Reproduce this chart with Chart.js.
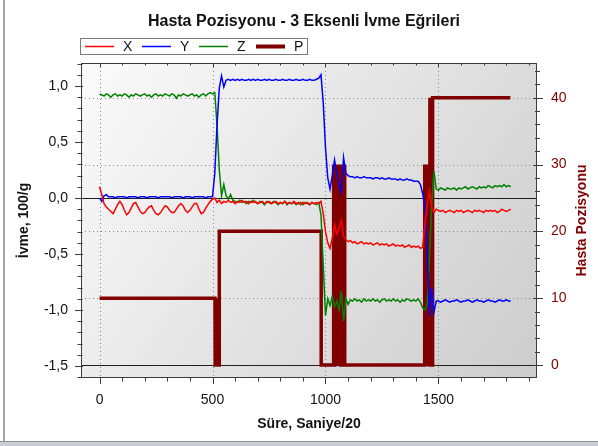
<!DOCTYPE html>
<html>
<head>
<meta charset="utf-8">
<script src="https://cdn.jsdelivr.net/npm/chart.js@4.4.0/dist/chart.umd.min.js"></script>
<style>
  html, body { margin: 0; padding: 0; background: #fff; overflow: hidden; }
  #kutu { width: 598px; height: 446px; position: relative; }
</style>
</head>
<body>
<div id="kutu"><canvas id="grafik"></canvas></div>
<script>
// Süre, Saniye/20 (ortak zaman ekseni)
var sure = [
  0, 10, 20, 30, 40, 50, 60, 70, 80, 90,
  100, 110, 120, 130, 140, 150, 160, 170, 180, 190,
  200, 210, 220, 230, 240, 250, 260, 270, 280, 290,
  300, 310, 320, 330, 340, 350, 360, 370, 380, 390,
  400, 410, 420, 430, 440, 450, 460, 470, 480, 490,
  500, 510, 520, 530, 540, 550, 560, 570, 580, 590,
  600, 610, 620, 630, 640, 650, 660, 670, 680, 690,
  700, 710, 720, 730, 740, 750, 760, 770, 780, 790,
  800, 810, 820, 830, 840, 850, 860, 870, 880, 890,
  900, 910, 920, 930, 940, 950, 960, 970, 980, 990,
  1000, 1010, 1020, 1030, 1040, 1050, 1060, 1070, 1080, 1090,
  1100, 1110, 1120, 1130, 1140, 1150, 1160, 1170, 1180, 1190,
  1200, 1210, 1220, 1230, 1240, 1250, 1260, 1270, 1280, 1290,
  1300, 1310, 1320, 1330, 1340, 1350, 1360, 1370, 1380, 1390,
  1400, 1410, 1420, 1430, 1440, 1450, 1460, 1470, 1480, 1490,
  1500, 1510, 1520, 1530, 1540, 1550, 1560, 1570, 1580, 1590,
  1600, 1610, 1620, 1630, 1640, 1650, 1660, 1670, 1680, 1690,
  1700, 1710, 1720, 1730, 1740, 1750, 1760, 1770, 1780, 1790,
  1800, 1810, 1820
];

// ivme, 100/g
var ivmeX = [
  0.10, 0.03, -0.05, -0.08, -0.10, -0.12, -0.14, -0.10, -0.06, -0.03,
  -0.06, -0.11, -0.15, -0.13, -0.09, -0.05, -0.04, -0.08, -0.12, -0.14,
  -0.13, -0.10, -0.08, -0.07, -0.11, -0.14, -0.15, -0.13, -0.10, -0.07,
  -0.08, -0.11, -0.13, -0.13, -0.10, -0.07, -0.05, -0.07, -0.11, -0.13,
  -0.11, -0.08, -0.05, -0.05, -0.10, -0.14, -0.13, -0.09, -0.06, -0.03,
  -0.01, 0.00, -0.04, -0.02, -0.05, -0.03, -0.04, -0.02, -0.04, -0.03,
  -0.05, -0.03, -0.04, -0.02, -0.04, -0.03, -0.05, -0.03, -0.04, -0.03,
  -0.05, -0.04, -0.03, -0.05, -0.04, -0.03, -0.05, -0.04, -0.03, -0.05,
  -0.04, -0.05, -0.03, -0.05, -0.04, -0.05, -0.03, -0.05, -0.04, -0.06,
  -0.04, -0.05, -0.04, -0.06, -0.04, -0.05, -0.04, -0.05, -0.03, -0.14,
  -0.30, -0.40, -0.45, -0.36, -0.24, -0.32, -0.27, -0.20, -0.34, -0.37,
  -0.39, -0.38, -0.40, -0.39, -0.41, -0.40, -0.39, -0.41, -0.40, -0.41,
  -0.40, -0.42, -0.41, -0.40, -0.42, -0.41, -0.42, -0.41, -0.43, -0.42,
  -0.41, -0.43, -0.42, -0.43, -0.42, -0.44, -0.43, -0.42, -0.44, -0.43,
  -0.44, -0.43, -0.45, -0.44, -0.23, -0.05, 0.06, -0.08, -0.13, -0.10,
  -0.11, -0.12, -0.11, -0.13, -0.12, -0.11, -0.12, -0.13, -0.11, -0.12,
  -0.11, -0.13, -0.12, -0.11, -0.12, -0.13, -0.11, -0.12, -0.11, -0.12,
  -0.13, -0.11, -0.12, -0.11, -0.12, -0.11, -0.13, -0.12, -0.10, -0.11,
  -0.12, -0.11, -0.10
];
var ivmeY = [
  0.00, -0.03, 0.02, 0.03, 0.01, 0.01, 0.01, 0.00, 0.01, 0.01,
  0.01, 0.01, 0.00, 0.01, 0.01, 0.01, 0.01, 0.00, 0.01, 0.01,
  0.01, 0.00, 0.01, 0.01, 0.01, 0.01, 0.00, 0.01, 0.01, 0.01,
  0.01, 0.01, 0.00, 0.01, 0.01, 0.01, 0.01, 0.00, 0.01, 0.01,
  0.01, 0.00, 0.01, 0.01, 0.01, 0.01, 0.01, 0.00, 0.01, 0.01,
  0.01, 0.22, 0.65, 0.98, 1.09, 0.99, 1.05, 1.06, 1.05, 1.06,
  1.05, 1.06, 1.05, 1.06, 1.05, 1.05, 1.06, 1.05, 1.06, 1.05,
  1.06, 1.05, 1.05, 1.06, 1.05, 1.06, 1.05, 1.05, 1.06, 1.05,
  1.05, 1.06, 1.05, 1.05, 1.06, 1.05, 1.05, 1.06, 1.05, 1.05,
  1.06, 1.05, 1.05, 1.06, 1.05, 1.05, 1.06, 1.07, 1.10, 0.85,
  0.45, 0.18, 0.08, 0.20, 0.34, 0.22, 0.12, 0.05, 0.36, 0.22,
  0.20, 0.19, 0.19, 0.18, 0.19, 0.18, 0.18, 0.19, 0.18, 0.18,
  0.18, 0.17, 0.18, 0.18, 0.17, 0.18, 0.17, 0.17, 0.18, 0.17,
  0.17, 0.17, 0.16, 0.17, 0.16, 0.16, 0.17, 0.16, 0.16, 0.15,
  0.15, 0.15, 0.12, 0.04, -0.08, -0.50, -1.05, -0.80, -1.02, -0.92,
  -0.92, -0.93, -0.92, -0.91, -0.92, -0.93, -0.92, -0.92, -0.91, -0.92,
  -0.93, -0.92, -0.92, -0.91, -0.92, -0.93, -0.92, -0.91, -0.92, -0.92,
  -0.93, -0.92, -0.91, -0.92, -0.92, -0.93, -0.92, -0.91, -0.92, -0.92,
  -0.91, -0.92, -0.92
];
var ivmeZ = [
  0.93, 0.92, 0.91, 0.93, 0.92, 0.90, 0.92, 0.93, 0.91, 0.92,
  0.91, 0.93, 0.92, 0.90, 0.92, 0.91, 0.93, 0.92, 0.91, 0.92,
  0.93, 0.91, 0.92, 0.90, 0.92, 0.93, 0.91, 0.92, 0.91, 0.93,
  0.92, 0.91, 0.93, 0.92, 0.89, 0.92, 0.91, 0.93, 0.92, 0.91,
  0.92, 0.93, 0.91, 0.92, 0.90, 0.92, 0.93, 0.91, 0.93, 0.94,
  0.93, 0.94, 0.65, 0.25, 0.02, 0.12, 0.02, -0.01, 0.03, -0.02,
  -0.03, -0.04, -0.02, -0.04, -0.03, -0.05, -0.03, -0.04, -0.02, -0.04,
  -0.05, -0.03, -0.04, -0.06, -0.03, -0.04, -0.05, -0.03, -0.04, -0.06,
  -0.04, -0.05, -0.03, -0.06, -0.04, -0.05, -0.04, -0.06, -0.05, -0.04,
  -0.06, -0.04, -0.05, -0.06, -0.04, -0.05, -0.06, -0.04, -0.15, -0.60,
  -1.05, -0.90, -0.96, -0.88, -0.97, -0.92, -1.00, -0.83, -1.10, -0.90,
  -0.95, -0.91, -0.92, -0.90, -0.92, -0.91, -0.93, -0.90, -0.92, -0.91,
  -0.92, -0.90, -0.92, -0.91, -0.93, -0.91, -0.90, -0.92, -0.91, -0.92,
  -0.90, -0.92, -0.91, -0.93, -0.91, -0.92, -0.90, -0.91, -0.92, -0.91,
  -0.92, -0.90, -0.93, -0.98, -1.00, -0.95, -0.55, -0.05, 0.24, 0.08,
  0.07, 0.09, 0.08, 0.07, 0.09, 0.08, 0.08, 0.09, 0.07, 0.09,
  0.08, 0.09, 0.10, 0.08, 0.09, 0.10, 0.09, 0.08, 0.10, 0.09,
  0.10, 0.09, 0.11, 0.10, 0.09, 0.11, 0.10, 0.11, 0.10, 0.12,
  0.10, 0.11, 0.10
];

// hasta pozisyonu (sag eksen), kendi zaman noktalari ile
var pozSure = [
  0, 511, 512, 514, 516, 518, 520, 522, 524, 530, 530, 981, 981,
  1034, 1036, 1038, 1040, 1042, 1044, 1046, 1048, 1050, 1052, 1054, 1056, 1058,
  1060, 1062, 1064, 1066, 1068, 1070, 1072, 1074, 1076, 1078, 1080, 1082, 1084, 1086,
  1436, 1438, 1440, 1442, 1444, 1446, 1448, 1450, 1452, 1454, 1456, 1458,
  1460, 1462, 1464, 1466, 1468, 1470, 1472, 1474, 1476,
  1818
];
var pozDeger = [
  10, 10, 0, 10, 0, 10, 0, 10, 0, 0, 20, 20, 0,
  0, 30, 0, 30, 0, 30, 0, 30, 0, 30, 0, 30, 0,
  30, 0, 30, 0, 30, 0, 30, 0, 30, 0, 30, 0, 30, 0,
  0, 30, 0, 30, 0, 30, 0, 30, 0, 30, 0, 30,
  0, 40, 0, 40, 0, 40, 0, 40, 40,
  40
];

var seriAdlari = ['X', 'Y', 'Z', 'P'];
var seriRenkleri = ['#ff0000', '#0000ff', '#008000', '#800000'];
var solTikler = [-1.5, -1.0, -0.5, 0, 0.5, 1.0];
var sagTikler = [0, 10, 20, 30, 40];
var altTikler = [0, 500, 1000, 1500];

var yazi = "'Liberation Sans', Arial, sans-serif";
var eksenRengi = '#3c3c3c';

function noktalar(xs, ys) {
    return xs.map(function (t, i) { return { x: t, y: ys[i] }; });
}

var cizim = {
    id: 'cizim',
    beforeDraw(chart) {
        const { ctx, chartArea: a } = chart;
        ctx.save();
        ctx.fillStyle = '#ffffff';
        ctx.fillRect(0, 0, chart.width, chart.height);
        // dis cerceve
        ctx.fillStyle = '#a4a4a4';
        ctx.fillRect(3, 0, 2, 442);
        ctx.fillStyle = '#c9cdd6';
        ctx.fillRect(0, 442, chart.width, 4);
        ctx.fillStyle = '#8a909c';
        ctx.fillRect(0, 441, chart.width, 1);
        // grafik alani
        const g = ctx.createLinearGradient(a.left, a.top, a.right, a.bottom);
        g.addColorStop(0, '#fbfbfb');
        g.addColorStop(1, '#cccccc');
        ctx.fillStyle = g;
        ctx.fillRect(a.left, a.top, a.width, a.height);
        ctx.restore();
    },
    beforeDatasetsDraw(chart) {
        const { ctx, chartArea: a, scales } = chart;
        ctx.save();
        ctx.strokeStyle = '#8a8a8a';
        ctx.lineWidth = 1;
        ctx.setLineDash([1, 3]);
        altTikler.forEach(function (v) {
            const px = Math.round(scales.x.getPixelForValue(v)) + 0.5;
            ctx.beginPath(); ctx.moveTo(px, a.top); ctx.lineTo(px, a.bottom); ctx.stroke();
        });
        sagTikler.forEach(function (v) {
            if (v === 0) return;
            const py = Math.round(scales.y2.getPixelForValue(v)) + 0.5;
            ctx.beginPath(); ctx.moveTo(a.left, py); ctx.lineTo(a.right, py); ctx.stroke();
        });
        ctx.setLineDash([]);
        ctx.strokeStyle = '#202020';
        var py0 = Math.round(scales.y.getPixelForValue(0)) + 0.5;
        ctx.beginPath(); ctx.moveTo(a.left, py0); ctx.lineTo(a.right, py0); ctx.stroke();
        var pyP = Math.round(scales.y2.getPixelForValue(0)) + 0.5;
        ctx.beginPath(); ctx.moveTo(a.left, pyP); ctx.lineTo(a.right, pyP); ctx.stroke();
        ctx.restore();
    },
    afterDatasetsDraw(chart) {
        const { ctx, chartArea: a, scales } = chart;
        ctx.save();
        ctx.strokeStyle = eksenRengi;
        ctx.lineWidth = 1;
        // cerceve
        ctx.strokeRect(a.left + 0.5, a.top + 0.5, a.width - 1, a.height - 1);
        ctx.beginPath();
        // alt eksen tikleri (100'de bir)
        for (var k = 0; k <= 19; k++) {
            var px = Math.round(scales.x.getPixelForValue(k * 100)) + 0.5;
            var buyuk = k % 5 === 0;
            ctx.moveTo(px, a.bottom); ctx.lineTo(px, a.bottom + (buyuk ? 6 : 3.5));
            ctx.moveTo(px, a.top); ctx.lineTo(px, a.top + (buyuk ? 4 : 2.5));
        }
        // sol eksen tikleri (0,1'de bir)
        for (var j = -16; j <= 12; j++) {
            var py = Math.round(scales.y.getPixelForValue(j / 10)) + 0.5;
            var b2 = j % 5 === 0;
            ctx.moveTo(a.left - (b2 ? 6 : 3.5), py); ctx.lineTo(a.left + (b2 ? 2 : 1.5), py);
        }
        // sag eksen tikleri (2'de bir)
        for (var m = 0; m <= 44; m += 2) {
            var py2 = Math.round(scales.y2.getPixelForValue(m)) + 0.5;
            var b3 = m % 10 === 0;
            ctx.moveTo(a.right - (b3 ? 4 : 2), py2); ctx.lineTo(a.right + (b3 ? 6 : 3), py2);
        }
        ctx.stroke();
        ctx.restore();
    },
    afterDraw(chart) {
        const { ctx, chartArea: a } = chart;
        ctx.save();
        // baslik
        ctx.fillStyle = '#111111';
        ctx.font = 'bold 16px ' + yazi;
        ctx.textAlign = 'center';
        ctx.textBaseline = 'alphabetic';
        ctx.fillText('Hasta Pozisyonu - 3 Eksenli İvme Eğrileri', 304, 26);

        // lejant
        ctx.fillStyle = '#ffffff';
        ctx.fillRect(80.5, 38.5, 227, 16);
        ctx.strokeStyle = '#7a7a7a';
        ctx.lineWidth = 1;
        ctx.strokeRect(80.5, 38.5, 227, 16);
        ctx.font = '14px ' + yazi;
        ctx.textAlign = 'left';
        ctx.textBaseline = 'middle';
        for (var i = 0; i < seriAdlari.length; i++) {
            var x0 = 85 + i * 57;
            ctx.strokeStyle = seriRenkleri[i];
            ctx.lineWidth = i === 3 ? 4 : 1.5;
            ctx.beginPath(); ctx.moveTo(x0, 46.5); ctx.lineTo(x0 + 29, 46.5); ctx.stroke();
            ctx.fillStyle = '#111111';
            ctx.fillText(seriAdlari[i], x0 + 38, 47);
        }

        // eksen basliklari
        ctx.font = 'bold 14px ' + yazi;
        ctx.textAlign = 'center';
        ctx.fillStyle = '#111111';
        ctx.fillText('Süre, Saniye/20', (a.left + a.right) / 2, 424);

        ctx.save();
        ctx.translate(24, (a.top + a.bottom) / 2);
        ctx.rotate(-Math.PI / 2);
        ctx.fillText('İvme, 100/g', 0, 0);
        ctx.restore();

        ctx.save();
        ctx.translate(582, (a.top + a.bottom) / 2);
        ctx.rotate(-Math.PI / 2);
        ctx.fillStyle = '#800000';
        ctx.fillText('Hasta Pozisyonu', 0, 0);
        ctx.restore();

        ctx.restore();
    }
};

new Chart(document.getElementById('grafik'), {
    type: 'line',
    data: {
        datasets: [
            { label: 'X', data: noktalar(sure, ivmeX), borderColor: seriRenkleri[0], borderWidth: 1.5, pointRadius: 0, yAxisID: 'y', order: 1 },
            { label: 'Y', data: noktalar(sure, ivmeY), borderColor: seriRenkleri[1], borderWidth: 1.5, pointRadius: 0, yAxisID: 'y', order: 2 },
            { label: 'Z', data: noktalar(sure, ivmeZ), borderColor: seriRenkleri[2], borderWidth: 1.5, pointRadius: 0, yAxisID: 'y', order: 3 },
            { label: 'P', data: noktalar(pozSure, pozDeger), borderColor: seriRenkleri[3], borderWidth: 3.5, pointRadius: 0, yAxisID: 'y2', order: 4 }
        ]
    },
    options: {
        responsive: true,
        maintainAspectRatio: false,
        animation: false,
        layout: { padding: { top: 63, left: 0, right: 0, bottom: 0 } },
        plugins: {
            legend: { display: false },
            title: { display: false },
            tooltip: { enabled: false }
        },
        scales: {
            x: {
                type: 'linear', position: 'bottom', min: -82, max: 1936,
                grid: { display: false, drawTicks: false }, border: { display: false },
                afterBuildTicks: function (s) { s.ticks = altTikler.map(function (v) { return { value: v }; }); },
                afterFit: function (s) { s.height = 68; },
                ticks: {
                    padding: 14, color: '#111111', autoSkip: false, maxRotation: 0,
                    font: { family: yazi, size: 14 },
                    callback: function (v) { return String(v); }
                }
            },
            y: {
                type: 'linear', position: 'left', min: -1.607, max: 1.205,
                grid: { display: false, drawTicks: false }, border: { display: false },
                afterBuildTicks: function (s) { s.ticks = solTikler.map(function (v) { return { value: v }; }); },
                afterFit: function (s) { s.width = 81; },
                ticks: {
                    padding: 13, color: '#111111', autoSkip: false,
                    font: { family: yazi, size: 14 },
                    callback: function (v) { return v.toFixed(1).replace('.', ','); }
                }
            },
            y2: {
                type: 'linear', position: 'right', min: -1.945, max: 45.19,
                grid: { display: false, drawTicks: false }, border: { display: false },
                afterBuildTicks: function (s) { s.ticks = sagTikler.map(function (v) { return { value: v }; }); },
                afterFit: function (s) { s.width = 61; },
                ticks: {
                    padding: 14, color: '#800000', autoSkip: false,
                    font: { family: yazi, size: 14 },
                    callback: function (v) { return String(v); }
                }
            }
        }
    },
    plugins: [cizim]
});
</script>
</body>
</html>
